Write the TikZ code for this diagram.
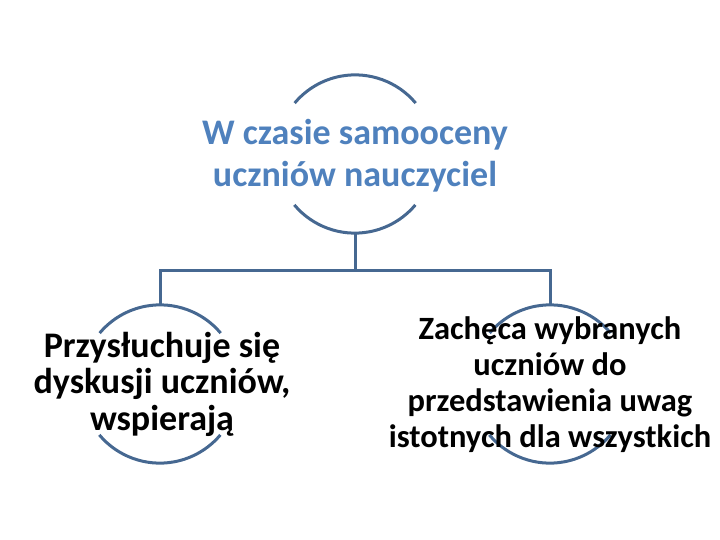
\documentclass[tikz,border=0pt]{standalone}
\usepackage{fontspec}
\setmainfont{Carlito}
\definecolor{linec}{RGB}{70,104,145}
\definecolor{topc}{RGB}{79,129,189}
\tikzset{
  ring/.style={circle, minimum size=158pt, inner sep=0pt},
  arcline/.style={draw=linec, line width=3pt},
  conn/.style={draw=linec, line width=3pt},
  toptext/.style={align=center, text=topc, font=\bfseries\fontsize{36}{42}\selectfont},
  subtext/.style={align=center, text=black, font=\bfseries\fontsize{32.5}{36}\selectfont},
  subtextl/.style={align=center, text=black, font=\bfseries\fontsize{36}{36.5}\selectfont},
}
\begin{document}
\begin{tikzpicture}[x=1pt,y=-1pt]
\useasboundingbox (0,0) rectangle (720,540);
\node[ring] (t) at (355,154) {};
\node[ring] (l) at (160,384) {};
\node[ring] (r) at (550,384) {};
\coordinate (j) at (355,270);
% arcs
\foreach \n in {t,l,r}{
  \draw[arcline] (\n.40) arc[start angle=40, end angle=140, radius=79pt];
  \draw[arcline] (\n.220) arc[start angle=220, end angle=320, radius=79pt];
}
% connectors
\draw[conn] (t.south) -- (j);
\draw[conn] (j) -| (l.north);
\draw[conn] (j) -| (r.north);
% texts
\node[toptext] (tt) at (355,156) {W czasie samooceny\\uczniów nauczyciel};
\node[subtextl] (lt) at (162,384) {Przysłuchuje się\\dyskusji uczniów,\\wspierają};
\node[subtext] (rt) at (550,385) {Zachęca wybranych\\uczniów do\\przedstawienia uwag\\istotnych dla wszystkich};
\end{tikzpicture}
\end{document}
